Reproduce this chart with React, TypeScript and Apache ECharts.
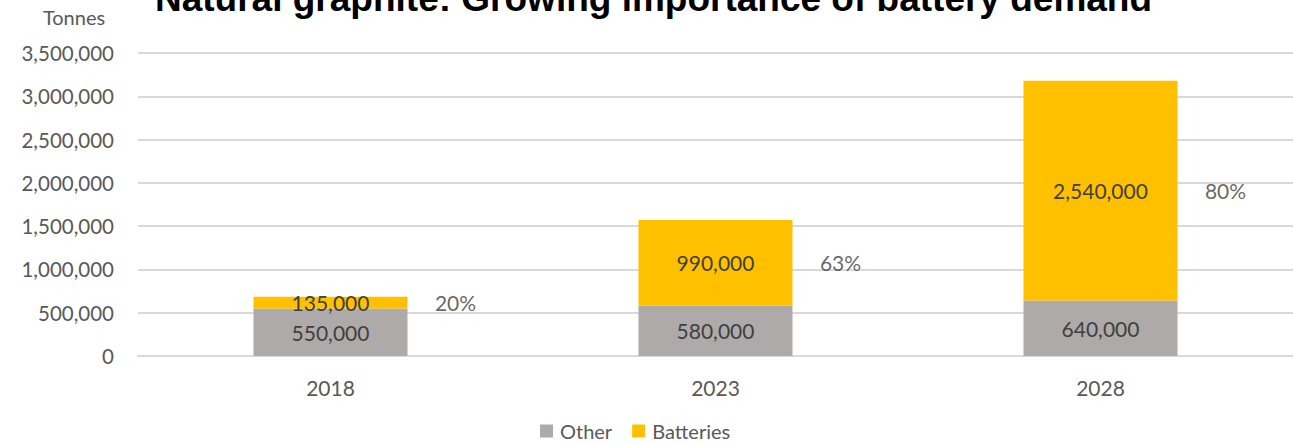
import React, { useEffect, useRef } from "react";
import * as echarts from "echarts";

const categories = ["2018", "2023", "2028"];
const otherValues = [550000, 580000, 640000];
const batteryValues = [135000, 990000, 2540000];
const seriesNames = ["Other", "Batteries"];
const titleText = "Natural graphite: Growing importance of battery demand";
const unitText = "Tonnes";
const yMax = 3500000;
const yInterval = 500000;

const fmt = (v: number) => v.toLocaleString("en-US");
const LABEL_FONT = "Lato, 'Open Sans', sans-serif";

export default function App() {
  const ref = useRef<HTMLDivElement>(null);
  useEffect(() => {
    document.body.style.margin = "0";
    if (!ref.current) return;
    const chart = echarts.init(ref.current, undefined, { renderer: "svg" });
    const pctData = categories.map((_, i) => {
      const o = otherValues[i];
      const b = batteryValues[i];
      return {
        value: [i, o + b / 2],
        pct: Math.round((b / (o + b)) * 100) + "%",
      };
    });
    chart.setOption({
      animation: false,
      textStyle: { fontFamily: LABEL_FONT },
      graphic: [
        {
          type: "text",
          left: 155,
          top: -20,
          style: {
            text: titleText,
            font: "bold 37px 'Liberation Sans', Arial, sans-serif",
            fill: "#000000",
          },
        },
        {
          type: "text",
          x: 74,
          y: 17,
          style: {
            text: unitText,
            fontFamily: LABEL_FONT,
            fontSize: 20,
            fill: "#595959",
            align: "center",
            verticalAlign: "middle",
          },
        },
      ],
      legend: {
        data: seriesNames,
        left: 540,
        top: 421,
        padding: 0,
        icon: "rect",
        itemWidth: 13,
        itemHeight: 13,
        itemGap: 20,
        textStyle: {
          fontFamily: LABEL_FONT,
          fontSize: 20,
          color: "#595959",
          padding: [0, 0, 0, 2],
        },
      },
      grid: { left: 138, top: 53, width: 1170, height: 303, containLabel: false },
      xAxis: {
        type: "category",
        data: categories,
        axisLine: { show: true, lineStyle: { color: "#d9d9d9", width: 2 } },
        axisTick: { show: false },
        axisLabel: { fontFamily: LABEL_FONT, fontSize: 21, color: "#595959", margin: 21 },
      },
      yAxis: {
        type: "value",
        min: 0,
        max: yMax,
        interval: yInterval,
        axisLine: { show: false },
        axisTick: { show: false },
        splitLine: { lineStyle: { color: "#d9d9d9", width: 2 } },
        axisLabel: {
          fontFamily: LABEL_FONT,
          fontSize: 20.5,
          color: "#595959",
          margin: 24,
          formatter: (v: number) => fmt(v),
        },
      },
      series: [
        {
          name: seriesNames[0],
          type: "bar",
          stack: "total",
          barWidth: "40%",
          data: otherValues,
          itemStyle: { color: "#aeaaaa" },
          label: {
            show: true,
            position: "inside",
            fontFamily: LABEL_FONT,
            fontSize: 21,
            color: "#404040",
            formatter: (p: any) => fmt(p.value),
          },
        },
        {
          name: seriesNames[1],
          type: "bar",
          stack: "total",
          barWidth: "40%",
          data: batteryValues,
          itemStyle: { color: "#ffc000" },
          label: {
            show: true,
            position: "inside",
            fontFamily: LABEL_FONT,
            fontSize: 21,
            color: "#404040",
            formatter: (p: any) => fmt(p.value),
          },
        },
        {
          name: "share",
          type: "scatter",
          symbolSize: 0,
          silent: true,
          data: pctData,
          label: {
            show: true,
            position: "inside",
            offset: [125, 0],
            fontFamily: LABEL_FONT,
            fontSize: 21,
            color: "#404040",
            formatter: (p: any) => p.data.pct,
          },
        },
      ],
    });
    return () => chart.dispose();
  }, []);
  return <div ref={ref} style={{ width: 1293, height: 444 }} />;
}
